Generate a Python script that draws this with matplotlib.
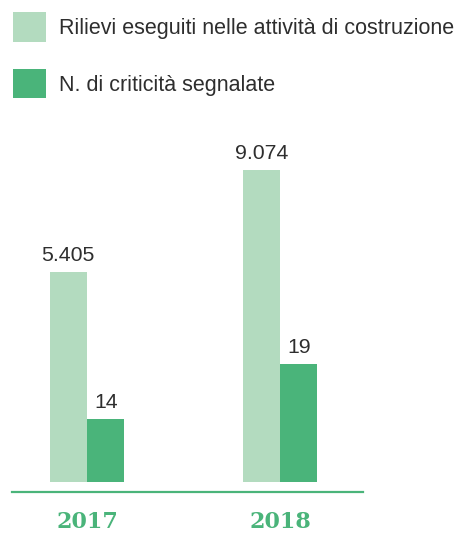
import matplotlib
matplotlib.use("Agg")
import matplotlib.pyplot as plt
import numpy as np

years = ["2017", "2018"]
rilievi = [5405, 9074]
criticita = [14, 19]
labels = ["Rilievi eseguiti nelle attività di costruzione", "N. di criticità segnalate"]

light = "#b3dbbf"
dark = "#4ab47a"
txt = "#2e2e2e"

plt.rcParams['font.family'] = ['Liberation Sans', 'DejaVu Sans']

fig = plt.figure(figsize=(4.57, 5.36), dpi=100)
ax = fig.add_axes([12/457, 54/536, 351/457, 352/536])
ax2 = ax.twinx()

x = np.arange(len(years))
w = 0.194

base1 = -2149
base2 = 8.27
ax.set_ylim(base1, base1 + 352/0.0278)
ax2.set_ylim(base2, base2 + 352/11.0)

b1 = ax.bar(x - w/2, np.array(rilievi) - base1, bottom=base1, width=w, color=light, label=labels[0])
b2 = ax2.bar(x + w/2, np.array(criticita) - base2, bottom=base2, width=w, color=dark, label=labels[1])

for xi, v in zip(x - w/2, rilievi):
    ax.annotate(f"{v:,}".replace(",", "."), (xi, v), xytext=(0, 5), textcoords="offset points",
                ha="center", va="bottom", fontsize=15.3, color=txt)
for xi, v in zip(x + w/2, criticita):
    ax2.annotate(f"{v}", (xi, v), xytext=(0, 5), textcoords="offset points",
                 ha="center", va="bottom", fontsize=15.3, color=txt)

ax.set_xlim(-0.3886, 1.430)
for a in (ax, ax2):
    for s in a.spines.values():
        s.set_visible(False)
    a.set_yticks([])
ax.spines['bottom'].set_visible(True)
ax.spines['bottom'].set_position(('outward', 7))
ax.spines['bottom'].set_color(dark)
ax.spines['bottom'].set_linewidth(1.6)
ax.set_xticks(x)
ax.set_xticklabels(years, family=['DejaVu Serif'], fontweight='bold', fontsize=16, color=dark)
ax.tick_params(axis='x', length=0, pad=14)

fig.legend(handles=[b1, b2], labels=labels, loc='upper left', bbox_to_anchor=(13/457, 1 - 12/536),
           frameon=False, fontsize=15.5, handlelength=1.53, handleheight=1.75,
           labelspacing=1.25, handletextpad=0.62, borderaxespad=0.0, labelcolor=txt,
           borderpad=0.0)

fig.savefig("out.png", dpi=100)
